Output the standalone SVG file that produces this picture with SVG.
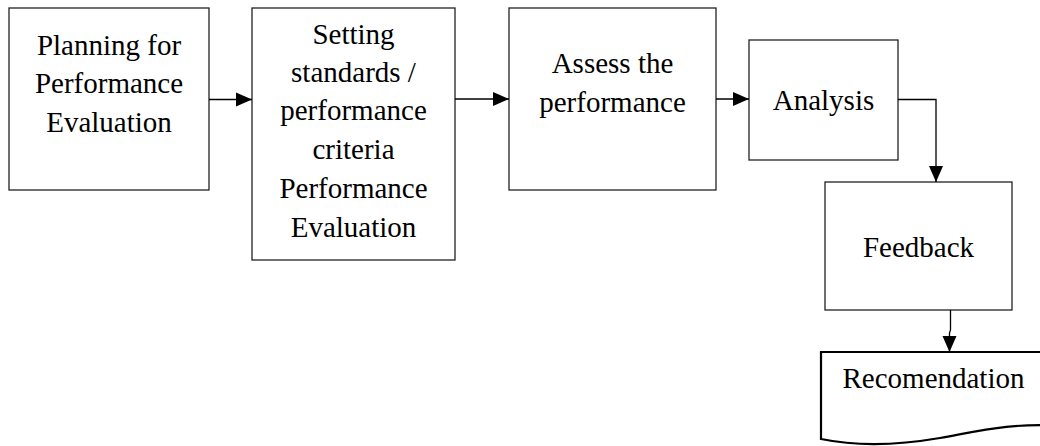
<svg xmlns="http://www.w3.org/2000/svg" width="1040" height="446" viewBox="0 0 1040 446">
<defs>
<style>
.box{fill:#fff;stroke:#222;stroke-width:1.3}
.doc{fill:#fff;stroke:#000;stroke-width:2.2}
.t{font-size:29px;fill:#000;text-anchor:middle}
.c{fill:none;stroke:#000;stroke-width:1.3}
</style>
<marker id="ah" viewBox="0 0 16 16" refX="16" refY="8" markerWidth="16" markerHeight="16" markerUnits="userSpaceOnUse" orient="auto">
<path d="M0,1 L16,8 L0,15 Z" fill="#000"/>
</marker>
</defs>
<rect width="1040" height="446" fill="#fff"/>
<g font-family="'Liberation Serif', 'Times New Roman', serif">
<g id="planning">
<rect class="box" x="9" y="8" width="200" height="182"/>
<text class="t" x="109" y="55">Planning for</text>
<text class="t" x="109" y="93">Performance</text>
<text class="t" x="109" y="132">Evaluation</text>
</g>
<g id="setting">
<rect class="box" x="252" y="8" width="203" height="252"/>
<text class="t" x="353.5" y="44">Setting</text>
<text class="t" x="353.5" y="82">standards /</text>
<text class="t" x="353.5" y="120">performance</text>
<text class="t" x="353.5" y="159">criteria</text>
<text class="t" x="353.5" y="198">Performance</text>
<text class="t" x="353.5" y="237">Evaluation</text>
</g>
<g id="assess">
<rect class="box" x="509" y="8" width="207" height="182"/>
<text class="t" x="612.5" y="73">Assess the</text>
<text class="t" x="612.5" y="112">performance</text>
</g>
<g id="analysis">
<rect class="box" x="749" y="40" width="149" height="120"/>
<text class="t" x="823.5" y="110">Analysis</text>
</g>
<g id="feedback">
<rect class="box" x="825" y="182" width="187" height="128"/>
<text class="t" x="918.5" y="257">Feedback</text>
</g>
<g id="recomendation">
<path class="doc" d="M821,352 H1065 V426 C1010,422 975,432 940,438 C905,444 860,447 821,439 Z"/>
<text class="t" x="933.5" y="388">Recomendation</text>
</g>
</g>
<g id="connectors">
<line class="c" x1="209" y1="99.5" x2="252" y2="99.5" marker-end="url(#ah)"/>
<line class="c" x1="455" y1="99" x2="509" y2="99" marker-end="url(#ah)"/>
<line class="c" x1="716" y1="99" x2="749" y2="99" marker-end="url(#ah)"/>
<polyline class="c" points="898,99.5 936,99.5 936,182" marker-end="url(#ah)"/>
<polyline class="c" points="950.5,310 950.5,330 949.5,333 949.5,352" marker-end="url(#ah)"/>
</g>
</svg>
